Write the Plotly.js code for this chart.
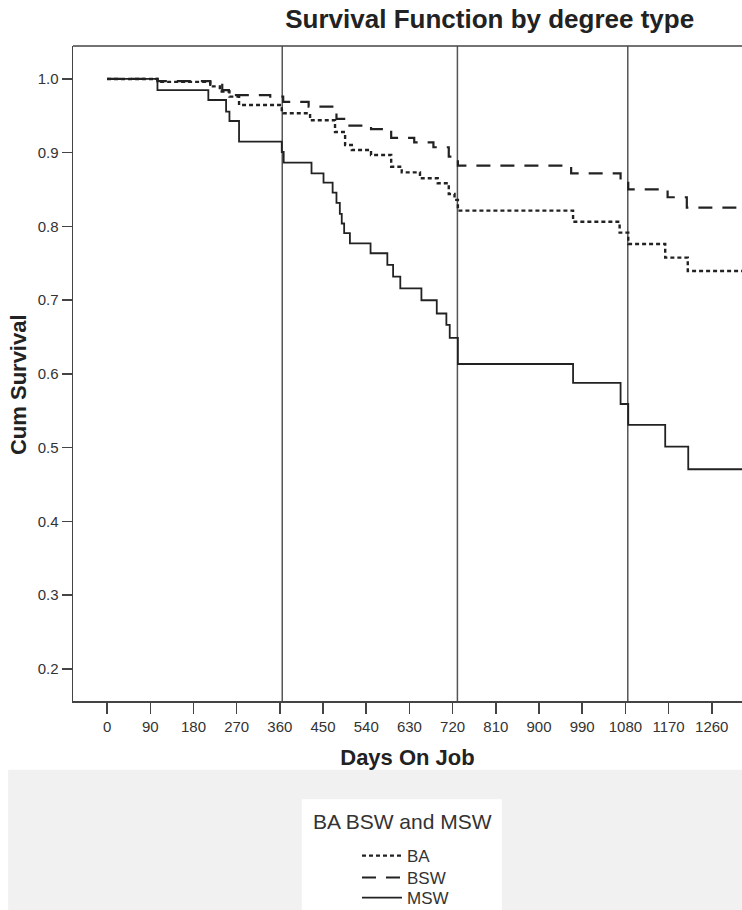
<!DOCTYPE html>
<html>
<head>
<meta charset="utf-8">
<script src="https://cdn.plot.ly/plotly-3.0.1.min.js"></script>
<style>html,body{margin:0;padding:0;background:#fff;}#chart{width:742px;height:910px;}</style>
</head>
<body>
<div id="chart"></div>
<script>
// ---- data ----
const seriesNames = ["BA", "BSW", "MSW"];
const legendTitle = "BA BSW and MSW";
const yTitle = "Cum Survival";
const xTitle = "Days On Job";

const baDays  = [0, 105, 215, 235, 255, 275, 364, 368, 423, 475, 496, 510, 550, 592, 614, 652, 689, 712, 724, 731, 971, 1068, 1086, 1163, 1210];
const baSurv  = [1.0, 0.996, 0.990, 0.983, 0.976, 0.9647, 0.958, 0.9535, 0.944, 0.928, 0.9105, 0.9037, 0.897, 0.881, 0.8734, 0.8653, 0.8586, 0.844, 0.836, 0.8215, 0.8065, 0.7916, 0.7763, 0.7577, 0.7397];

const bswDays = [0, 105, 215, 240, 265, 340, 367, 420, 478, 505, 550, 592, 640, 680, 712, 731, 967, 1070, 1086, 1168, 1208];
const bswSurv = [1.0, 0.997, 0.992, 0.985, 0.978, 0.976, 0.969, 0.9625, 0.946, 0.9367, 0.932, 0.920, 0.914, 0.9074, 0.8947, 0.8825, 0.872, 0.862, 0.8504, 0.8396, 0.8255];

const mswDays = [0, 105, 211, 248, 255, 275, 364, 368, 426, 451, 470, 478, 485, 489, 494, 506, 549, 584, 596, 611, 655, 687, 707, 714, 731, 971, 1070, 1086, 1163, 1211];
const mswSurv = [1.0, 0.985, 0.9715, 0.9557, 0.943, 0.915, 0.901, 0.8865, 0.872, 0.8594, 0.846, 0.832, 0.817, 0.804, 0.791, 0.777, 0.7637, 0.748, 0.732, 0.716, 0.700, 0.682, 0.6665, 0.649, 0.6135, 0.588, 0.5593, 0.531, 0.5014, 0.4708];

const lastFollowUp = 1350;            // curves run past the cropped right edge
const yearLines = [365, 730, 1085];   // vertical reference lines
const xTicks = [0, 90, 180, 270, 360, 450, 540, 630, 720, 810, 900, 990, 1080, 1170, 1260];
const yTicks = [0.2, 0.3, 0.4, 0.5, 0.6, 0.7, 0.8, 0.9, 1.0];

// ---- build ----
function ext(d, s) { return { x: d.concat([lastFollowUp]), y: s.concat([s[s.length - 1]]) }; }
const FONT = "Liberation Sans, Arial, sans-serif";
const INK = "#222";
const styles = [
  { dash: "4px,3px", width: 2.4 },
  { dash: "14px,10px", width: 2.2 },
  { dash: "solid", width: 1.8 }
];
const legendIds = ["legend", "legend2", "legend3"];
const legendTops = [-0.2092, -0.2427, -0.2733];
const dataSets = [ext(baDays, baSurv), ext(bswDays, bswSurv), ext(mswDays, mswSurv)];
const traces = dataSets.map((ds, i) => ({
  type: "scatter", mode: "lines", name: seriesNames[i], legend: legendIds[i],
  x: ds.x, y: ds.y, line: { shape: "hv", color: INK, dash: styles[i].dash, width: styles[i].width },
  hoverinfo: "x+y+name"
}));

const shapes = yearLines.map(d => ({
  type: "line", xref: "x", yref: "paper", x0: d, x1: d, y0: 0, y1: 1,
  line: { color: "#555", width: 1.5 }, layer: "below"
}));
// top frame line
shapes.push({ type: "line", xref: "paper", yref: "paper", x0: 0, x1: 1, y0: 1, y1: 1, line: { color: "#444", width: 1.5 } });
// grey band under chart + white legend box
shapes.push({ type: "rect", xref: "paper", yref: "paper", x0: -0.097, x1: 1.0, y0: -0.319, y1: -0.105, fillcolor: "#f1f1f1", line: { width: 0 }, layer: "below" });
shapes.push({ type: "rect", xref: "paper", yref: "paper", x0: 0.342, x1: 0.641, y0: -0.319, y1: -0.150, fillcolor: "#ffffff", line: { width: 0 }, layer: "below" });

const layout = {
  width: 742, height: 910,
  margin: { l: 73, r: 0, t: 46, b: 209, autoexpand: false },
  paper_bgcolor: "#ffffff", plot_bgcolor: "#ffffff",
  font: { family: FONT, color: "#333" },
  title: { text: "<b>Survival Function by degree type</b>", font: { size: 26, color: "#222", family: FONT }, x: 0.66, xanchor: "center", y: 0.979, yanchor: "middle" },
  xaxis: {
    range: [-71, 1323], tickvals: xTicks, ticktext: xTicks.map(String), automargin: false,
    ticks: "outside", ticklen: 11, tickwidth: 1.5, tickcolor: "#444",
    showline: true, linecolor: "#444", linewidth: 1.5, showgrid: false, zeroline: false,
    tickfont: { size: 15, color: "#333" },
    title: { text: "<b>" + xTitle + "</b>", font: { size: 22, color: "#222" }, standoff: 16 }
  },
  yaxis: {
    range: [0.1566, 1.0447], tickvals: yTicks, ticktext: yTicks.map(v => v.toFixed(1)), automargin: false,
    ticks: "outside", ticklen: 10, tickwidth: 1.5, tickcolor: "#444",
    showline: true, linecolor: "#444", linewidth: 1.5, showgrid: false, zeroline: false,
    tickfont: { size: 15, color: "#333" }
  },
  annotations: [
    {
      text: legendTitle, xref: "paper", yref: "paper", x: 0.492, y: -0.1847,
      xanchor: "center", yanchor: "middle", showarrow: false,
      font: { size: 21, color: "#333", family: FONT }
    },
    {
      text: "<b>" + yTitle + "</b>", xref: "paper", yref: "paper", x: -0.0822, y: 0.4824,
      xanchor: "center", yanchor: "middle", textangle: -90, showarrow: false,
      font: { size: 22, color: "#222", family: FONT }
    }
  ],
  showlegend: true,
  shapes: shapes
};
legendIds.forEach((id, i) => {
  layout[id] = {
    x: 0.4245, xanchor: "left", y: legendTops[i], yanchor: "top",
    bgcolor: "rgba(0,0,0,0)", font: { size: 17, color: "#333" },
    itemwidth: 40
  };
});

Plotly.newPlot("chart", traces, layout, { displayModeBar: false, staticPlot: true });
</script>
</body>
</html>
